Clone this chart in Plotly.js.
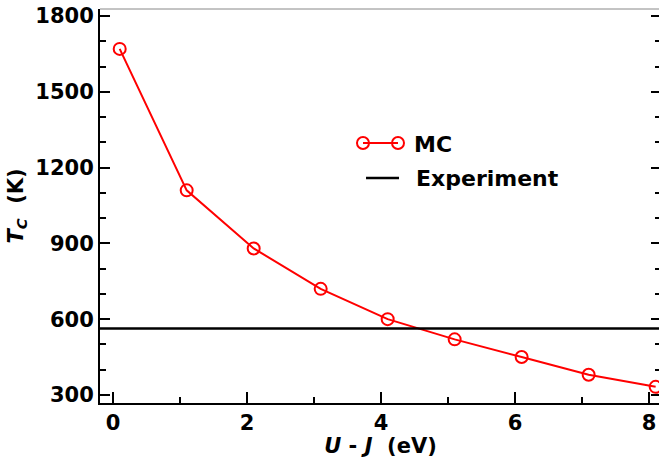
<!DOCTYPE html>
<html>
<head>
<meta charset="utf-8">
<script src="https://cdn.plot.ly/plotly-3.0.1.min.js"></script>
<style>
html, body { margin: 0; padding: 0; overflow: hidden; background: #fff; }
#chart { width: 665px; height: 458px; }
</style>
</head>
<body>
<div id="chart"></div>
<script>
// Data
const uMinusJ = [0.1, 1.1, 2.1, 3.1, 4.1, 5.1, 6.1, 7.1, 8.1];
const tcMC = [1670, 1110, 880, 720, 600, 520, 450, 380, 332];
const expX = [-0.5, 8.5];
const expY = [563, 563];
const seriesNames = ['MC', 'Experiment'];
const xTickVals = [0, 2, 4, 6, 8];
const yTickVals = [300, 600, 900, 1200, 1500, 1800];

const FONT = 'DejaVu Sans, Liberation Sans, Arial, sans-serif';
const RED = '#ff0000';

const traces = [
  {
    x: uMinusJ, y: tcMC, name: seriesNames[0],
    type: 'scatter', mode: 'lines+markers',
    line: { color: RED, width: 2 },
    marker: { symbol: 'circle-open', size: 12, color: RED, line: { width: 2, color: RED } },
    cliponaxis: true, showlegend: false
  },
  {
    x: expX, y: expY, name: seriesNames[1],
    type: 'scatter', mode: 'lines',
    line: { color: '#000000', width: 2.5 }, showlegend: false
  }
];

// Legend (drawn Grace-style: markers at both ends of the sample line)
const legY = [0.66, 0.571];
const legend = [
  { type: 'line', xref: 'paper', yref: 'paper', x0: 0.4688, x1: 0.5312, y0: legY[0], y1: legY[0], line: { color: RED, width: 2 } },
  { type: 'circle', xref: 'paper', yref: 'paper', xsizemode: 'pixel', ysizemode: 'pixel', xanchor: 0.4688, yanchor: legY[0], x0: -6, x1: 6, y0: -6, y1: 6, line: { color: RED, width: 2 }, fillcolor: 'rgba(0,0,0,0)' },
  { type: 'circle', xref: 'paper', yref: 'paper', xsizemode: 'pixel', ysizemode: 'pixel', xanchor: 0.5312, yanchor: legY[0], x0: -6, x1: 6, y0: -6, y1: 6, line: { color: RED, width: 2 }, fillcolor: 'rgba(0,0,0,0)' },
  { type: 'line', xref: 'paper', yref: 'paper', x0: 0.4742, x1: 0.5330, y0: legY[1], y1: legY[1], line: { color: '#000', width: 2.5 } }
];

const layout = {
  width: 665, height: 458,
  margin: { l: 100, r: 4, t: 9, b: 55 },
  paper_bgcolor: '#ffffff', plot_bgcolor: '#ffffff',
  font: { family: FONT, color: '#000' },
  showlegend: false,
  xaxis: {
    range: [-0.194, 8.18],
    tickvals: xTickVals, ticktext: xTickVals.map(String),
    ticks: 'inside', ticklen: 11, tickwidth: 2, tickcolor: '#000',
    minor: { dtick: 1, tick0: 0, ticks: 'inside', ticklen: 6, tickwidth: 2, tickcolor: '#000', showgrid: false },
    showline: true, linewidth: 2, linecolor: '#000',
    showgrid: false, zeroline: false,
    tickfont: { family: FONT, size: 21, color: '#000', weight: 'bold' },
    title: { text: '<i>U</i> - <i>J</i>  (eV)', font: { family: FONT, size: 21, color: '#000', weight: 'bold' }, standoff: 0 }
  },
  yaxis: {
    range: [268, 1828],
    tickvals: yTickVals, ticktext: yTickVals.map(String),
    ticks: 'inside', ticklen: 10, tickwidth: 2, tickcolor: '#000',
    minor: { dtick: 100, tick0: 0, ticks: 'inside', ticklen: 6, tickwidth: 2, tickcolor: '#000', showgrid: false },
    showline: true, linewidth: 2, linecolor: '#000', mirror: 'ticks',
    showgrid: false, zeroline: false,
    tickfont: { family: FONT, size: 21, color: '#000', weight: 'bold' },
    title: { text: '<i>T</i><sub><i>C</i></sub>  (K)', font: { family: FONT, size: 21, color: '#000', weight: 'bold' }, standoff: 6 }
  },
  shapes: [
    { type: 'line', xref: 'paper', yref: 'paper', x0: 0, x1: 1, y0: 1, y1: 1, line: { color: '#888', width: 1 } }
  ].concat(legend),
  annotations: [
    { xref: 'paper', yref: 'paper', x: 0.5561, y: legY[0] - 0.004, xanchor: 'left', yanchor: 'middle', showarrow: false, text: seriesNames[0], font: { family: FONT, size: 22, color: '#000', weight: 'bold' } },
    { xref: 'paper', yref: 'paper', x: 0.5597, y: legY[1], xanchor: 'left', yanchor: 'middle', showarrow: false, text: seriesNames[1], font: { family: FONT, size: 22, color: '#000', weight: 'bold' } }
  ]
};

Plotly.newPlot('chart', traces, layout, { staticPlot: true, displayModeBar: false });
</script>
</body>
</html>
